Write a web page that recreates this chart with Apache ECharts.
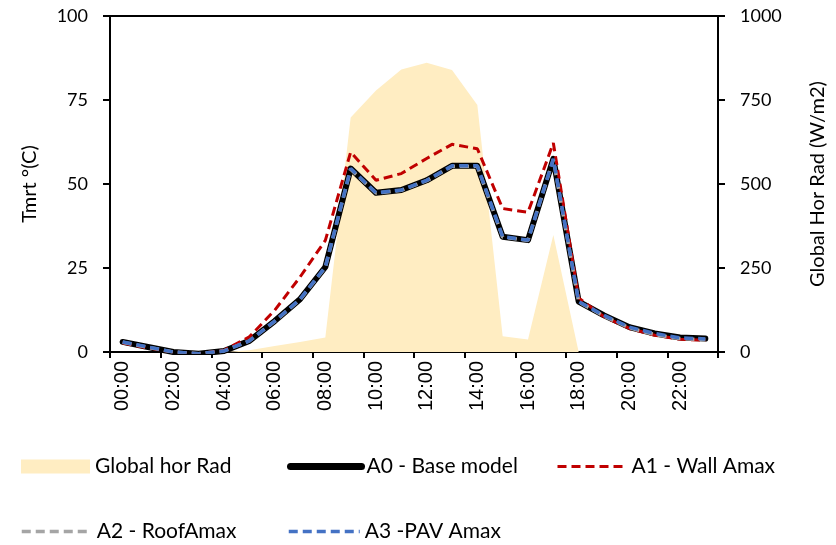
<!DOCTYPE html>
<html>
<head>
<meta charset="utf-8">
<script src="https://cdn.jsdelivr.net/npm/echarts@6/dist/echarts.min.js"></script>
<style>
  html, body { margin: 0; padding: 0; background: #fff; }
  #chart { width: 836px; height: 545px; }
</style>
</head>
<body>
<div id="chart"></div>
<script>
const hours = ['00:00', '01:00', '02:00', '03:00', '04:00', '05:00', '06:00', '07:00', '08:00', '09:00', '10:00', '11:00',
  '12:00', '13:00', '14:00', '15:00', '16:00', '17:00', '18:00', '19:00', '20:00', '21:00', '22:00', '23:00'];

// Global horizontal radiation (W/m2), right axis
const globalRad = [0, 0, 0, 0, 0, 5, 18, 30, 43, 698, 778, 841, 861, 839, 735, 47, 37, 348, 0, 0, 0, 0, 0, 0];

// Tmrt (°C), left axis
const a0Base = [3.0, 1.5, 0, -0.5, 0.3, 3.3, 9.2, 15.7, 25.3, 54.6, 47.4, 48.2, 51.1, 55.4, 55.4, 34.3, 33.3, 57.5, 15.0, 10.9, 7.4, 5.5, 4.3, 4.0];
const a1Wall = [2.7, 1.2, 0, -0.5, 0.5, 4.5, 12.4, 22.3, 33.2, 59.5, 51.1, 53.1, 57.6, 61.8, 60.5, 42.7, 41.6, 62.2, 16.1, 10.5, 7.0, 5.0, 3.8, 3.5];
const a2Roof = [2.9, 1.4, 0, -0.5, 0.3, 3.3, 9.1, 15.6, 25.2, 54.4, 47.3, 48.1, 51.0, 55.3, 55.3, 34.2, 33.2, 57.3, 14.9, 10.7, 7.2, 5.2, 4.0, 3.7];
const a3Pav = [3.0, 1.5, 0, -0.5, 0.3, 3.3, 9.2, 15.7, 25.3, 54.6, 47.4, 48.2, 51.1, 55.4, 55.4, 34.3, 33.3, 57.5, 15.0, 10.9, 7.4, 5.5, 4.2, 3.9];

const leftTicks = [0, 25, 50, 75, 100];
const rightTicks = [0, 250, 500, 750, 1000];

const radColor = '#FFEDC2';
const uiFont = 'Lato';

const chart = echarts.init(document.getElementById('chart'), null, { renderer: 'canvas' });

const legendText = { color: '#000', fontFamily: uiFont, fontSize: 21 };

// one legend per entry so each can sit where Excel put it
const lineLegend = (name, left, top, width, lineStyle) => ({
  data: [name],
  left, top,
  padding: 0,
  itemWidth: width,
  itemHeight: 14,
  textStyle: legendText,
  selectedMode: false,
  itemStyle: { color: 'transparent', borderWidth: 0 },
  lineStyle,
});

const dashed = (name, data, color, width) => ({
  name,
  type: 'line',
  data,
  symbol: 'none',
  yAxisIndex: 0,
  lineStyle: { color, width, type: [9, 5] },
  itemStyle: { color },
});

const option = {
  animation: false,
  backgroundColor: '#fff',
  grid: {
    left: 110, right: 113, top: 16, bottom: 193,
    show: true, borderColor: '#000', borderWidth: 2,
  },
  legend: [
    {
      data: [{ name: 'Global hor Rad', icon: 'rect' }],
      left: 21, top: 456,
      padding: 0,
      itemWidth: 69, itemHeight: 14,
      textStyle: legendText,
      selectedMode: false,
      itemStyle: { color: radColor },
    },
    lineLegend('A0 - Base model', 287, 456, 71, { color: '#000', width: 7, type: 'solid', cap: 'round' }),
    lineLegend('A1 - Wall Amax', 556, 456, 69, { color: '#C00000', width: 3, type: [9, 5] }),
    lineLegend('A2 - RoofAmax', 20, 521, 70, { color: '#A5A5A5', width: 3.5, type: [9, 5] }),
    lineLegend('A3 -PAV Amax', 287, 521, 71, { color: '#4472C4', width: 3.5, type: [9, 5] }),
  ],
  xAxis: {
    type: 'category',
    data: hours,
    boundaryGap: true,
    axisLine: { lineStyle: { color: '#000', width: 2 } },
    axisTick: { show: true, interval: 1, length: 6, lineStyle: { color: '#000', width: 2 } },
    axisLabel: {
      interval: 1, rotate: 90, margin: 9,
      color: '#000', fontFamily: 'Liberation Sans', fontSize: 20,
    },
  },
  yAxis: [
    {
      type: 'value', min: leftTicks[0], max: leftTicks[leftTicks.length - 1], interval: 25,
      name: 'Tmrt °(C)', nameLocation: 'middle', nameGap: 70, nameRotate: 90,
      nameTextStyle: { color: '#000', fontFamily: uiFont, fontSize: 20 },
      axisLine: { show: true, lineStyle: { color: '#000', width: 2 } },
      axisTick: { show: true, length: 7, lineStyle: { color: '#000', width: 2 } },
      axisLabel: { margin: 22, color: '#000', fontFamily: uiFont, fontSize: 18 },
      splitLine: { show: false },
    },
    {
      type: 'value', min: rightTicks[0], max: rightTicks[rightTicks.length - 1], interval: 250,
      name: 'Global Hor Rad (W/m2)', nameLocation: 'middle', nameGap: 90, nameRotate: 90,
      nameTextStyle: { color: '#000', fontFamily: uiFont, fontSize: 20 },
      position: 'right',
      axisLine: { show: true, lineStyle: { color: '#000', width: 2 } },
      axisTick: { show: true, length: 7, lineStyle: { color: '#000', width: 2 } },
      axisLabel: { margin: 22, color: '#000', fontFamily: uiFont, fontSize: 18, formatter: (v) => String(v) },
      splitLine: { show: false },
    },
  ],
  series: [
    {
      name: 'Global hor Rad',
      type: 'line',
      data: globalRad,
      yAxisIndex: 1,
      symbol: 'none',
      lineStyle: { width: 0 },
      itemStyle: { color: radColor },
      areaStyle: { color: radColor, opacity: 1 },
    },
    {
      name: 'A0 - Base model',
      type: 'line',
      data: a0Base,
      yAxisIndex: 0,
      symbol: 'none',
      lineStyle: { color: '#000', width: 6, cap: 'round', join: 'round' },
      itemStyle: { color: '#000' },
    },
    dashed('A1 - Wall Amax', a1Wall, '#C00000', 3),
    dashed('A2 - RoofAmax', a2Roof, '#A5A5A5', 3.5),
    dashed('A3 -PAV Amax', a3Pav, '#4472C4', 3.5),
  ],
};

chart.setOption(option);
</script>
</body>
</html>
